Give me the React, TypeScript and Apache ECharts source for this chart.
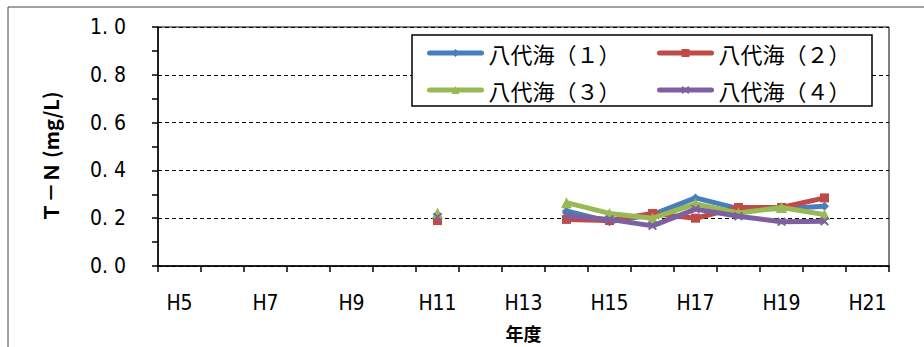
import React, { useEffect, useRef } from "react";
import * as echarts from "echarts";

const categories = ["H5","H6","H7","H8","H9","H10","H11","H12","H13","H14","H15","H16","H17","H18","H19","H20","H21"];
const seriesNames = ["八代海（１）", "八代海（２）", "八代海（３）", "八代海（４）"];
const yav1 = [null,null,null,null,null,null,0.215,null,null,0.23,0.185,0.215,0.285,0.24,0.24,0.25,null];
const yav2 = [null,null,null,null,null,null,0.19,null,null,0.195,0.19,0.22,0.2,0.245,0.245,0.285,null];
const yav3 = [null,null,null,null,null,null,0.222,null,null,0.265,0.22,0.2,0.26,0.222,0.245,0.215,null];
const yav4 = [null,null,null,null,null,null,0.205,null,null,0.21,0.195,0.168,0.238,0.208,0.185,0.187,null];
const yTicks = [0, 0.2, 0.4, 0.6, 0.8, 1.0];

const colors = ["#4A7EBB", "#BE4B48", "#98B954", "#7D60A0"];
const xSymbol = "path://M0,1.5L1.5,0L5,3.5L8.5,0L10,1.5L6.5,5L10,8.5L8.5,10L5,6.5L1.5,10L0,8.5L3.5,5Z";
const symbols = ["diamond", "rect", "triangle", xSymbol];
const symbolSizes = [9, 9, 11, 9];

const narrow = "'Liberation Sans Narrow', 'DejaVu Sans Condensed', 'Roboto Condensed', 'Liberation Sans', sans-serif";
const jp = "'Noto Sans CJK JP', sans-serif";

export default function App() {
  const ref = useRef<HTMLDivElement>(null);
  useEffect(() => {
    if (!ref.current) return;
    const chart = echarts.init(ref.current, null, { renderer: "svg" });
    const data = [yav1, yav2, yav3, yav4];
    const series = data.map((d, i) => ({
      name: seriesNames[i],
      type: "line",
      data: d,
      symbol: symbols[i],
      symbolSize: symbolSizes[i],
      showSymbol: true,
      connectNulls: false,
      itemStyle: { color: colors[i] },
      lineStyle: { color: colors[i], width: 5 },
      z: 2 + i,
    }));
    const legendCommon = {
      orient: "vertical",
      top: 41,
      padding: 0,
      z: 20,
      itemWidth: 52,
      itemHeight: 10,
      itemGap: 13,
      lineStyle: { width: 5, cap: "round" },
      textStyle: { fontSize: 22, fontFamily: jp, color: "#000", lineHeight: 24, padding: [0, 0, 0, 2] },
    };
    chart.setOption({
      animation: false,
      backgroundColor: "#fff",
      grid: { left: 158, right: 35, top: 27, bottom: 79, show: true, borderColor: "#000", borderWidth: 1 },
      legend: [
        { ...legendCommon, left: 427, data: [seriesNames[0], seriesNames[2]] },
        { ...legendCommon, left: 657, data: [seriesNames[1], seriesNames[3]] },
      ],
      xAxis: {
        type: "category",
        data: categories,
        boundaryGap: true,
        name: "年度",
        nameLocation: "middle",
        nameGap: 58,
        nameTextStyle: { fontSize: 18, fontWeight: "bold", fontFamily: jp, color: "#000" },
        axisLine: { lineStyle: { color: "#000", width: 1.5 } },
        axisTick: { show: true, interval: 0, length: 6, alignWithLabel: false, lineStyle: { color: "#000", width: 1.5 } },
        axisLabel: { interval: 1, fontSize: 21, fontFamily: narrow, color: "#000", margin: 26 },
        splitLine: { show: false },
      },
      yAxis: [
        {
          type: "value",
          min: 0,
          max: 1,
          interval: 0.2,
          axisLine: { show: true, lineStyle: { color: "#000", width: 1.5 } },
          axisTick: { show: true, length: 6, lineStyle: { color: "#000", width: 1.5 } },
          minorTick: { show: true, splitNumber: 2, length: 6, lineStyle: { color: "#000", width: 1.5 } },
          axisLabel: {
            fontSize: 21,
            fontFamily: narrow,
            color: "#000",
            margin: 32,
            formatter: (v: number) => {
              const t = yTicks.find((x) => Math.abs(x - v) < 1e-6);
              return t === undefined ? "" : t.toFixed(1).replace(".", ". ");
            },
          },
          splitLine: { show: true, lineStyle: { color: "#000", width: 1, type: [4, 3] } },
        },
      ],
      graphic: [
        {
          type: "rect",
          shape: { x: 8, y: 7, width: 1000, height: 400 },
          style: { fill: "none", stroke: "#444", lineWidth: 1 },
          z: 1,
          silent: true,
        },
        {
          type: "rect",
          shape: { x: 412, y: 35, width: 460, height: 71 },
          style: { fill: "#fff", stroke: "#000", lineWidth: 1.5 },
          z: 3,
          silent: true,
        },
        {
          type: "text",
          x: 50,
          y: 157,
          rotation: Math.PI / 2,
          style: {
            text: "Ｔ－Ｎ (mg/L)",
            fontSize: 20,
            fontWeight: "bold",
            fontFamily: jp,
            fill: "#000",
            align: "center",
            verticalAlign: "middle",
          },
        },
      ],
      series,
    });
    return () => chart.dispose();
  }, []);
  return (
    <div
      ref={ref}
      style={{ position: "fixed", left: 0, top: 0, width: 924, height: 347 }}
    />
  );
}
